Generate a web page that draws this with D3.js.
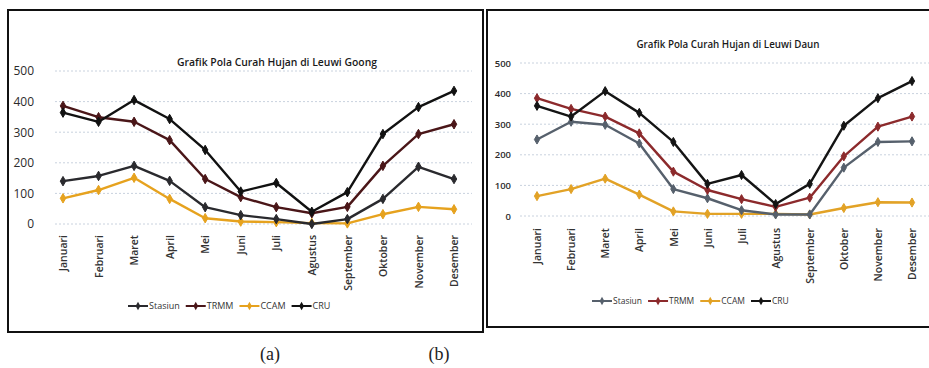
<!DOCTYPE html>
<html>
<head>
<meta charset="utf-8">
<script src="https://cdn.jsdelivr.net/npm/d3@7"></script>
<style>
  body { margin: 0; background: #fff; }
  svg { display: block; }
</style>
</head>
<body>
<svg id="chart" width="929" height="368"></svg>
<script>
const months = ["Januari", "Februari", "Maret", "April", "Mei", "Juni", "Juli",
  "Agustus", "September", "Oktober", "November", "Desember"];
const yTicks = [0, 100, 200, 300, 400, 500];
const seriesNames = ["Stasiun", "TRMM", "CCAM", "CRU"];

// Leuwi Goong (a)
const goongStasiun = [140, 157, 190, 141, 55, 29, 16, 0, 16, 82, 187, 147];
const goongTRMM = [386, 349, 334, 274, 147, 88, 55, 35, 56, 190, 294, 326];
const goongCCAM = [84, 111, 151, 82, 19, 8, 6, 3, 2, 32, 56, 48];
const goongCRU = [364, 334, 405, 343, 242, 106, 134, 40, 104, 294, 382, 435];

// Leuwi Daun (b)
const daunStasiun = [250, 308, 298, 237, 88, 58, 19, 5, 5, 158, 242, 244];
const daunTRMM = [385, 350, 325, 270, 145, 85, 55, 30, 60, 195, 292, 325];
const daunCCAM = [65, 88, 122, 70, 15, 7, 7, 7, 5, 26, 45, 44];
const daunCRU = [360, 325, 408, 337, 242, 105, 134, 39, 105, 295, 385, 441];

const svg = d3.select("#chart");
const font = "'Open Sans', Arial, sans-serif";

function drawChart(opt) {
  const g = svg.append("g");

  // panel border
  g.append("rect")
    .attr("x", opt.box[0]).attr("y", opt.box[1])
    .attr("width", opt.box[2]).attr("height", opt.box[3])
    .attr("fill", "none").attr("stroke", "#111").attr("stroke-width", 2);

  const x = d3.scalePoint().domain(months).range(opt.xRange);
  const y = d3.scaleLinear().domain([0, 500]).range(opt.yRange);

  // gridlines
  g.selectAll(".grid")
    .data(yTicks)
    .enter()
    .append("line")
    .attr("x1", opt.gridX[0]).attr("x2", opt.gridX[1])
    .attr("y1", d => y(d)).attr("y2", d => y(d))
    .attr("stroke", "#c9d2de").attr("stroke-width", 1)
    .attr("stroke-dasharray", "2,2");

  // y axis labels
  const yAxis = g.append("g")
    .attr("transform", "translate(" + opt.yLabelX + ",0)")
    .call(d3.axisLeft(y).tickValues(yTicks).tickSize(0).tickPadding(0));
  yAxis.select(".domain").remove();
  yAxis.selectAll("text")
    .attr("font-family", font).attr("font-size", opt.yFont)
    .attr("font-weight", opt.yWeight)
    .attr("fill", "#2b2b2b");

  // x axis labels (rotated)
  const xAxis = g.append("g")
    .attr("transform", "translate(0," + opt.xLabelY + ")")
    .call(d3.axisBottom(x).tickSize(0).tickPadding(0));
  xAxis.select(".domain").remove();
  xAxis.selectAll("text")
    .attr("font-family", font).attr("font-size", opt.xFont)
    .attr("font-weight", 600).attr("fill", "#333")
    .attr("transform", "rotate(-90)")
    .attr("x", 0).attr("y", 0).attr("dy", "0.35em")
    .style("text-anchor", "end");

  // title
  g.append("text")
    .attr("x", opt.title[1]).attr("y", opt.title[2])
    .attr("text-anchor", "middle")
    .attr("font-family", font).attr("font-size", opt.titleFont)
    .attr("font-weight", 600)
    .attr("textLength", opt.titleWidth).attr("lengthAdjust", "spacingAndGlyphs")
    .attr("fill", "#1a1a1a")
    .text(opt.title[0]);

  const line = d3.line()
    .x((d, i) => x(months[i]))
    .y(d => y(d));

  const diamond = d3.symbol().type(d3.symbolDiamond).size(opt.markSize);

  // draw CCAM first, then Stasiun, TRMM, CRU on top
  const order = [2, 0, 1, 3];
  order.forEach(k => {
    const vals = opt.series[k];
    const color = opt.colors[k];
    g.append("path")
      .datum(vals)
      .attr("d", line)
      .attr("fill", "none")
      .attr("stroke", color)
      .attr("stroke-width", 2.4)
      .attr("stroke-linejoin", "round");
    g.selectAll(".mk" + k)
      .data(vals)
      .enter()
      .append("path")
      .attr("d", diamond)
      .attr("transform", (d, i) => "translate(" + x(months[i]) + "," + y(d) + ")")
      .attr("fill", color)
      .attr("stroke", color);
  });

  // legend
  const leg = g.append("g")
    .attr("transform", "translate(" + opt.legend[0] + "," + opt.legend[1] + ")");
  let lx = 0;
  seriesNames.forEach((name, k) => {
    leg.append("line")
      .attr("x1", lx).attr("x2", lx + 20)
      .attr("y1", 0).attr("y2", 0)
      .attr("stroke", opt.colors[k]).attr("stroke-width", 2);
    leg.append("path")
      .attr("d", d3.symbol().type(d3.symbolDiamond).size(20))
      .attr("transform", "translate(" + (lx + 10) + ",0)")
      .attr("fill", opt.colors[k]);
    const t = leg.append("text")
      .attr("x", lx + 21).attr("y", 0).attr("dy", "0.35em")
      .attr("font-family", font).attr("font-size", opt.legendFont)
      .attr("fill", "#333")
      .text(name);
    lx += 21 + t.node().getComputedTextLength() + opt.legendGap;
  });
}

drawChart({
  box: [8, 10, 475, 322],
  xRange: [63, 454],
  yRange: [224, 71],
  gridX: [55, 472],
  yLabelX: 34,
  yFont: 12,
  yWeight: 400,
  xLabelY: 235,
  xFont: 10.5,
  title: ["Grafik Pola Curah Hujan di Leuwi Goong", 277, 66],
  titleFont: 11,
  titleWidth: 200,
  series: [goongStasiun, goongTRMM, goongCCAM, goongCRU],
  colors: ["#2a2a2e", "#4a1618", "#e6a21e", "#111111"],
  markSize: 26,
  legend: [128, 306],
  legendFont: 9,
  legendGap: 6
});

drawChart({
  box: [487, 10, 450, 317],
  xRange: [537, 912],
  yRange: [216, 63],
  gridX: [520, 929],
  yLabelX: 511,
  yFont: 9.5,
  yWeight: 600,
  xLabelY: 228,
  xFont: 10.5,
  title: ["Grafik Pola Curah Hujan di Leuwi Daun", 728, 48],
  titleFont: 10,
  titleWidth: 183,
  series: [daunStasiun, daunTRMM, daunCCAM, daunCRU],
  colors: ["#56606c", "#8c2a2c", "#e2a226", "#141414"],
  markSize: 24,
  legend: [592, 301],
  legendFont: 8.5,
  legendGap: 6
});

// panel captions
svg.append("text")
  .attr("x", 270).attr("y", 360)
  .attr("text-anchor", "middle")
  .attr("font-family", "'Liberation Serif', 'DejaVu Serif', serif")
  .attr("font-size", 18).attr("fill", "#222")
  .text("(a)");
svg.append("text")
  .attr("x", 439).attr("y", 360)
  .attr("text-anchor", "middle")
  .attr("font-family", "'Liberation Serif', 'DejaVu Serif', serif")
  .attr("font-size", 18).attr("fill", "#222")
  .text("(b)");
</script>
</body>
</html>
